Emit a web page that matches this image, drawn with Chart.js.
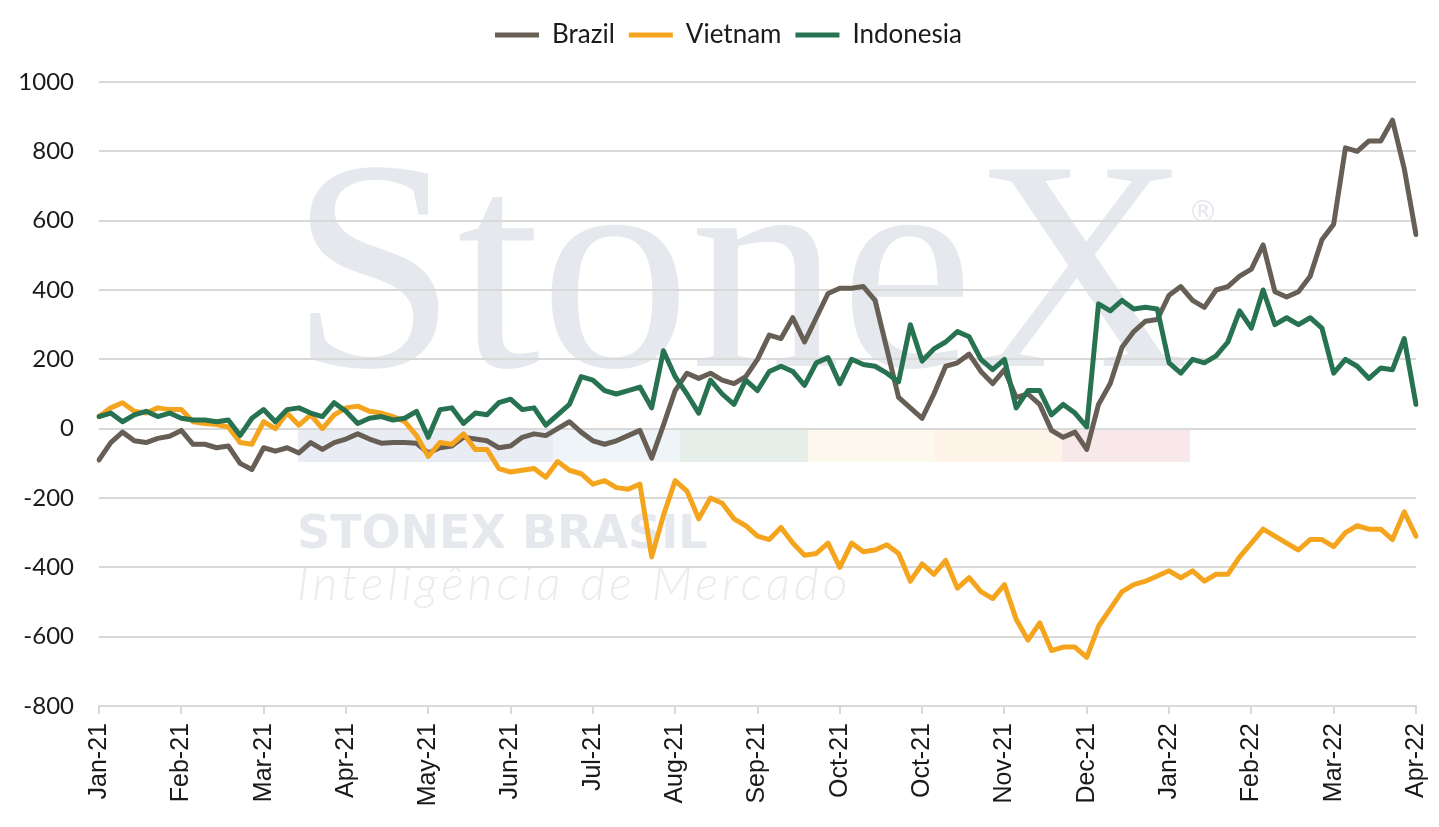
<!DOCTYPE html>
<html>
<head>
<meta charset="utf-8">
<script src="https://cdn.jsdelivr.net/npm/chart.js@4.4.1/dist/chart.umd.min.js"></script>
<style>
  html, body { margin: 0; padding: 0; background: #fff; }
  #wrap { width: 1439px; height: 827px; position: relative; }
</style>
</head>
<body>
<div id="wrap"><canvas id="chart"></canvas></div>
<script>
// rótulos do eixo x (um a cada 7 pontos)
const tickLabels = ['Jan-21', 'Feb-21', 'Mar-21', 'Apr-21', 'May-21', 'Jun-21', 'Jul-21', 'Aug-21',
  'Sep-21', 'Oct-21', 'Oct-21', 'Nov-21', 'Dec-21', 'Jan-22', 'Feb-22', 'Mar-22', 'Apr-22'];
const pointsPerTick = 7;

// séries (diferencial)
const brazil = [
  -90, -40, -10, -35, -40, -28, -22, -5, -45, -45, -55, -50, -100, -118,
  -55, -65, -55, -70, -40, -60, -40, -30, -15, -30, -42, -40, -40, -42,
  -70, -55, -50, -25, -30, -35, -55, -50, -25, -15, -20, 0, 20, -10,
  -35, -45, -35, -20, -5, -85, 10, 110, 160, 145, 160, 140, 130, 150,
  200, 270, 260, 320, 250, 320, 390, 405, 405, 410, 370, 230, 90, 60,
  30, 100, 180, 190, 215, 165, 130, 170, 90, 100, 70, -5, -25, -10,
  -60, 70, 130, 235, 280, 310, 315, 385, 410, 370, 350, 400, 410, 440,
  460, 530, 395, 380, 395, 440, 545, 590, 810, 800, 830, 830, 890, 750,
  560
];
const vietnam = [
  35, 60, 75, 50, 45, 60, 55, 55, 20, 15, 12, 5, -40, -45,
  20, 0, 45, 10, 40, 0, 40, 60, 65, 50, 45, 35, 20, -20,
  -80, -40, -45, -15, -60, -60, -115, -125, -120, -115, -140, -95, -120, -130,
  -160, -150, -170, -175, -160, -370, -250, -150, -180, -260, -200, -215, -260, -280,
  -310, -320, -285, -330, -365, -360, -330, -400, -330, -355, -350, -335, -360, -440,
  -390, -420, -380, -460, -430, -470, -490, -450, -550, -610, -560, -640, -630, -630,
  -660, -570, -520, -470, -450, -440, -425, -410, -430, -410, -440, -420, -420, -370,
  -330, -290, -310, -330, -350, -320, -320, -340, -300, -280, -290, -290, -320, -240,
  -310
];
const indonesia = [
  35, 45, 20, 40, 50, 35, 45, 30, 25, 25, 20, 25, -20, 30,
  55, 20, 55, 60, 45, 35, 75, 50, 15, 30, 35, 25, 30, 50,
  -25, 55, 60, 15, 45, 40, 75, 85, 55, 60, 10, 40, 70, 150,
  140, 110, 100, 110, 120, 60, 225, 150, 100, 45, 140, 100, 70, 140,
  110, 165, 180, 165, 125, 190, 205, 130, 200, 185, 180, 160, 135, 300,
  195, 230, 250, 280, 265, 200, 170, 200, 60, 110, 110, 40, 70, 45,
  5, 360, 340, 370, 345, 350, 345, 190, 160, 200, 190, 210, 250, 340,
  290, 400, 300, 320, 300, 320, 290, 160, 200, 180, 145, 175, 170, 260,
  70
];

const categories = brazil.map((v, i) => i % pointsPerTick === 0 ? tickLabels[i / pointsPerTick] : '');

const gridColor = '#d9d9d9';
const lineW = 5;

// marca d'água ao fundo
const watermark = {
  id: 'watermark',
  beforeDraw(chart) {
    const c = chart.ctx;
    c.save();
    const bands = [[298, 553, '#e9edf3'], [553, 680, '#eff4f9'], [680, 808, '#e6efe9'],
      [808, 935, '#fdf9ee'], [935, 1062, '#fdf3e7'], [1062, 1190, '#f8e8e9']];
    bands.forEach(([a, b, col]) => { c.fillStyle = col; c.fillRect(a, 429, b - a, 33); });
    c.fillStyle = '#e5e8ed';
    c.textBaseline = 'alphabetic';
    c.font = '300px "Liberation Serif"';
    c.fillText('StoneX', 290, 366);
    c.font = '30px "DejaVu Sans"';
    c.fillText('®', 1188, 222);
    c.font = 'bold 46px "DejaVu Sans"';
    c.fillText('STONEX BRASIL', 297, 548);
    c.fillStyle = '#eaecf0';
    c.font = 'italic 300 48px Lato';
    c.letterSpacing = '4px';
    c.fillText('Inteligência de Mercado', 297, 600);
    c.restore();
  }
};

// espaço extra abaixo da legenda
const legendGap = {
  id: 'legendGap',
  beforeInit(chart) {
    const fit = chart.legend.fit;
    chart.legend.fit = function () {
      fit.bind(chart.legend)();
      this.height += 24;
    };
  }
};

const ctx = document.getElementById('chart').getContext('2d');
new Chart(ctx, {
  type: 'line',
  data: {
    labels: categories,
    datasets: [
      { label: 'Brazil', data: brazil, borderColor: '#675f55', backgroundColor: '#675f55', borderWidth: lineW, order: 2 },
      { label: 'Vietnam', data: vietnam, borderColor: '#f5a51d', backgroundColor: '#f5a51d', borderWidth: lineW, order: 1 },
      { label: 'Indonesia', data: indonesia, borderColor: '#277250', backgroundColor: '#277250', borderWidth: lineW, order: 0 }
    ]
  },
  options: {
    responsive: true,
    maintainAspectRatio: false,
    animation: false,
    layout: { padding: { top: 8, right: 0, bottom: 0, left: 18 } },
    elements: {
      line: { tension: 0, borderJoinStyle: 'round', borderCapStyle: 'round' },
      point: { radius: 0, hoverRadius: 0 }
    },
    plugins: {
      tooltip: { enabled: false },
      legend: {
        position: 'top',
        labels: {
          usePointStyle: true,
          pointStyle: 'line',
          pointStyleWidth: 44,
          padding: 14,
          color: '#1a1a1a',
          font: { family: 'Lato', size: 26 },
          sort: (a, b) => a.datasetIndex - b.datasetIndex
        }
      }
    },
    scales: {
      x: {
        type: 'category',
        afterFit: s => { s.height = 121; s.paddingRight = 23; s.paddingLeft = 0; },
        afterBuildTicks: s => { s.ticks = s.ticks.filter(t => t.value % pointsPerTick === 0); },
        grid: { drawOnChartArea: false, drawTicks: true, tickLength: 8, color: gridColor, lineWidth: 2 },
        border: { display: true, color: gridColor, width: 2 },
        ticks: {
          autoSkip: false,
          minRotation: 90,
          maxRotation: 90,
          padding: 9,
          color: '#1a1a1a',
          font: { family: 'Liberation Sans', size: 25 }
        }
      },
      y: {
        min: -800,
        max: 1000,
        afterFit: s => { s.width = 81; },
        grid: { drawTicks: false, color: gridColor, lineWidth: 2 },
        border: { display: false },
        ticks: {
          stepSize: 200,
          padding: 25,
          color: '#1a1a1a',
          font: { family: 'Lato', size: 24 },
          callback: v => String(v)
        }
      }
    }
  },
  plugins: [watermark, legendGap]
});
</script>
</body>
</html>
